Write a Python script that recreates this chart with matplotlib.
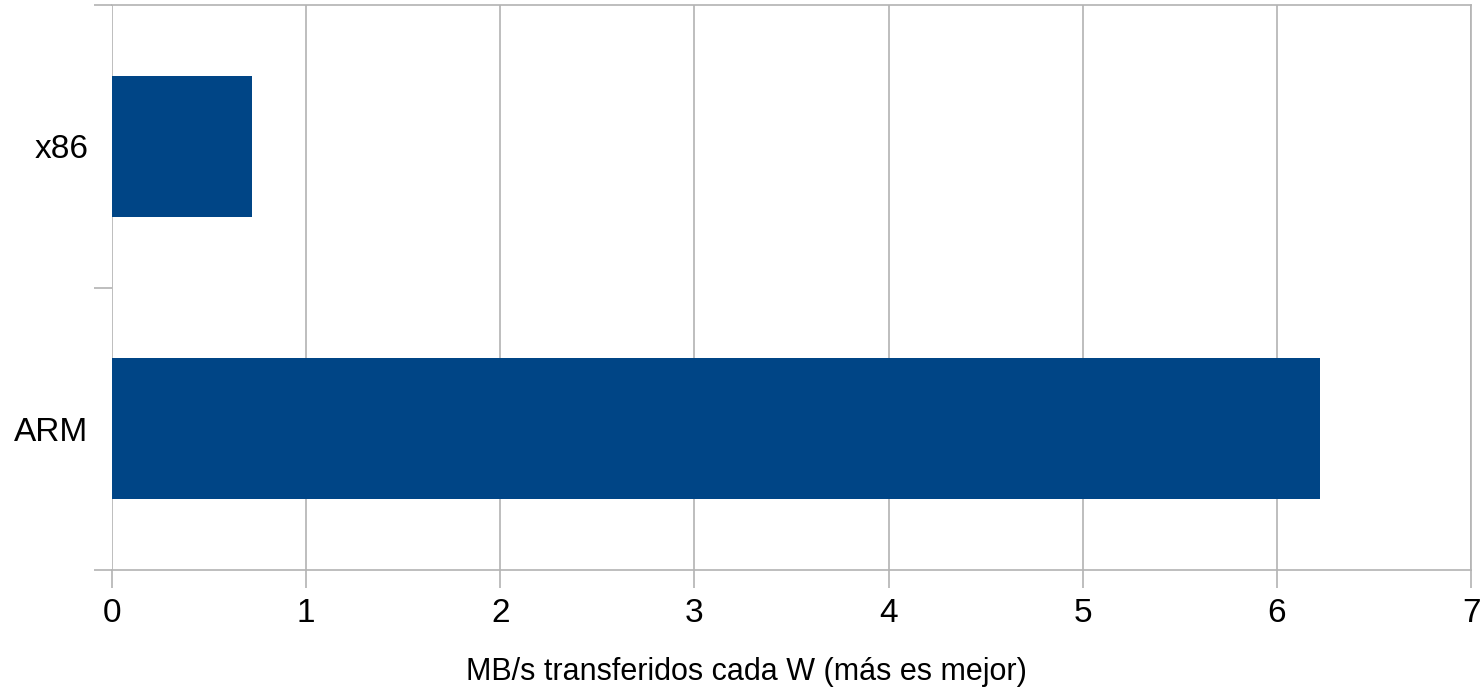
import numpy as np
import matplotlib.pyplot as plt

# Dane
categories = ['ARM', 'x86']
values = [6.22, 0.72]
x_ticks = [0, 1, 2, 3, 4, 5, 6, 7]

plt.rcParams['font.family'] = ['Liberation Sans', 'DejaVu Sans']

fig = plt.figure(figsize=(14.83, 6.94), dpi=100)
ax = fig.add_axes([112 / 1483, 1 - 570 / 694, (1471 - 112) / 1483, (570 - 5) / 694])

positions = np.arange(len(categories))
ax.barh(positions, values, height=0.5, color='#004586', zorder=3)

grid_color = '#b3b3b3'
ax.set_xlim(0, 7)
ax.set_ylim(-0.5, 1.5)
ax.set_xticks(x_ticks)
ax.set_xticklabels([str(t) for t in x_ticks])
ax.xaxis.grid(True, color=grid_color, linewidth=1.2, zorder=0)

# Etykiety kategorii na środku, znaczniki na granicach
ax.set_yticks([-0.5, 0.5, 1.5])
ax.set_yticklabels([])
ax.set_yticks(positions, minor=True)
ax.set_yticklabels(categories, minor=True)
ax.tick_params(axis='y', which='minor', length=0, pad=17, labelsize=24)
ax.tick_params(axis='y', which='major', length=13, width=1.2, color=grid_color)
ax.tick_params(axis='x', length=13, width=1.2, color=grid_color, labelsize=24, pad=7)

for side in ['top', 'bottom', 'right']:
    ax.spines[side].set_color(grid_color)
    ax.spines[side].set_linewidth(1.2)
ax.spines['left'].set_visible(False)

fig.text(746 / 1483, 1 - 672 / 694, 'MB/s transferidos cada W (más es mejor)',
         ha='center', va='center', fontsize=22)

fig.savefig('out.png', dpi=100)
